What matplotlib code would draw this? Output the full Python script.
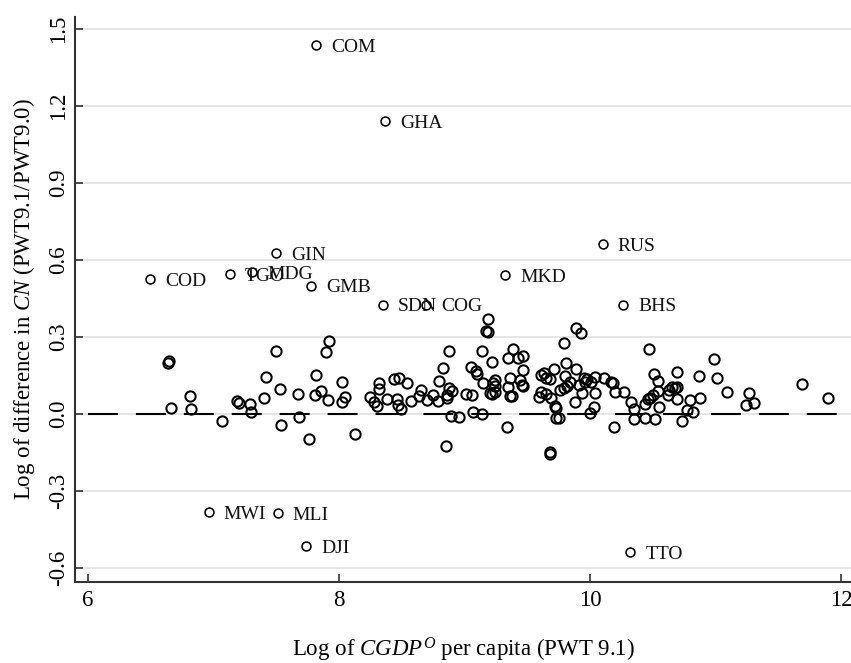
import matplotlib.pyplot as plt

plt.rcParams['font.family'] = ['Liberation Serif', 'DejaVu Serif']
plt.rcParams['mathtext.fontset'] = 'custom'
plt.rcParams['mathtext.rm'] = 'Liberation Serif'
plt.rcParams['mathtext.it'] = 'Liberation Serif:italic'
plt.rcParams['axes.unicode_minus'] = False

# labelled countries
label_codes = ['COM', 'GHA', 'GIN', 'COD', 'TGO', 'MDG', 'GMB', 'SDN', 'COG',
               'MKD', 'RUS', 'BHS', 'MWI', 'MLI', 'DJI', 'TTO']
label_x = [7.82, 8.37, 7.50, 6.49, 7.13, 7.31, 7.78, 8.35, 8.69,
           9.32, 10.10, 10.26, 6.96, 7.51, 7.74, 10.32]
label_y = [1.437, 1.140, 0.627, 0.526, 0.545, 0.553, 0.500, 0.425, 0.425,
           0.541, 0.662, 0.425, -0.382, -0.386, -0.514, -0.538]

# the rest of the countries
other_x = [6.64, 6.645, 6.66, 6.81, 6.82, 7.07, 7.19, 7.20, 7.29, 7.30,
           7.40, 7.42, 7.50, 7.53, 7.54, 7.67, 7.68, 7.76, 7.82, 7.81,
           7.86, 7.91, 7.92, 7.90, 8.02, 8.02, 8.05, 8.13, 8.25, 8.28,
           8.30, 8.32, 8.32, 8.38, 8.44, 8.48, 8.46, 8.47, 8.49, 8.54,
           8.57, 8.65, 8.64, 8.70, 8.75, 8.79, 8.80, 8.83, 8.88, 8.86,
           8.86, 8.88, 8.90, 8.89, 8.85, 8.96, 9.01, 9.06, 9.05, 9.09,
           9.10, 9.07, 9.14, 9.14, 9.15, 9.22, 9.24, 9.23, 9.20, 9.24,
           9.22, 9.17, 9.19, 9.19, 9.34, 9.35, 9.36, 9.36, 9.35, 9.39,
           9.43, 9.47, 9.47, 9.44, 9.47, 9.46, 9.38, 9.59, 9.61, 9.63,
           9.65, 9.61, 9.68, 9.65, 9.69, 9.71, 9.72, 9.73, 9.73, 9.75,
           9.68, 9.68, 9.79, 9.89, 9.93, 9.81, 9.80, 9.76, 9.79, 9.84,
           9.82, 9.89, 9.88, 9.91, 9.95, 9.96, 9.98, 10.01, 10.04, 10.04,
           9.94, 10.03, 10.00, 10.11, 10.17, 10.18, 10.20, 10.19, 10.27, 10.33,
           10.35, 10.35, 10.44, 10.52, 10.44, 10.46, 10.48, 10.50, 10.54, 10.47,
           10.51, 10.54, 10.55, 10.63, 10.65, 10.68, 10.62, 10.69, 10.69, 10.69,
           10.73, 10.77, 10.82, 10.80, 10.87, 10.88, 10.99, 11.01, 11.09, 11.27,
           11.24, 11.31, 11.69, 11.90, 9.24]
other_y = [0.200, 0.207, 0.022, 0.070, 0.020, -0.028, 0.050, 0.042, 0.040, 0.008,
           0.061, 0.144, 0.247, 0.097, -0.042, 0.077, -0.013, -0.096, 0.152, 0.074,
           0.091, 0.055, 0.284, 0.240, 0.126, 0.048, 0.065, -0.078, 0.068, 0.048,
           0.031, 0.122, 0.096, 0.058, 0.136, 0.141, 0.058, 0.036, 0.019, 0.122,
           0.052, 0.093, 0.072, 0.055, 0.074, 0.051, 0.128, 0.178, 0.245, 0.061,
           0.074, 0.100, 0.089, -0.006, -0.126, -0.013, 0.079, 0.074, 0.184, 0.169,
           0.155, 0.008, -0.001, 0.246, 0.120, 0.202, 0.134, 0.120, 0.081, 0.087,
           0.078, 0.325, 0.318, 0.370, -0.052, 0.104, 0.071, 0.139, 0.217, 0.252,
           0.217, 0.226, 0.171, 0.132, 0.109, 0.113, 0.070, 0.065, 0.087, 0.158,
           0.139, 0.152, 0.136, 0.077, 0.061, 0.174, 0.031, 0.022, -0.017, -0.014,
           -0.149, -0.156, 0.276, 0.334, 0.314, 0.197, 0.148, 0.093, 0.100, 0.126,
           0.108, 0.174, 0.048, 0.113, 0.139, 0.126, 0.135, 0.126, 0.143, 0.083,
           0.083, 0.026, 0.003, 0.139, 0.126, 0.120, 0.087, -0.050, 0.087, 0.048,
           0.018, -0.020, -0.016, -0.019, 0.039, 0.058, 0.061, 0.075, 0.088, 0.252,
           0.157, 0.130, 0.026, 0.094, 0.104, 0.100, 0.074, 0.106, 0.162, 0.057,
           -0.026, 0.016, 0.009, 0.055, 0.149, 0.061, 0.214, 0.141, 0.085, 0.081,
           0.034, 0.042, 0.117, 0.064, 0.109]

yticks = [-0.6, -0.3, 0.0, 0.3, 0.6, 0.9, 1.2, 1.5]
xticks = [6, 8, 10, 12]

fig = plt.figure(figsize=(8.51, 6.63), dpi=100)
ax = fig.add_axes([75 / 851, 81 / 663, 776 / 851, 565 / 663])
ax.set_xlim(5.896, 12.08)
ax.set_ylim(-0.6545, 1.5466)

ax.set_yticks(yticks)
ax.set_yticklabels(['%.1f' % v for v in yticks])
ax.set_xticks(xticks)
ax.yaxis.grid(True, color='#dedede', lw=1.1)
ax.set_axisbelow(True)

# zero line
ax.plot([6, 12], [0, 0], color='black', lw=1.5, linestyle=(0, (14.4, 8.6)),
        dash_capstyle='butt', zorder=2)

ax.plot(other_x, other_y, 'o', mfc='none', mec='black', ms=7.4, mew=1.45, zorder=3)
ax.plot(label_x, label_y, 'o', mfc='none', mec='black', ms=6.4, mew=1.15, zorder=3)
for c, x, y in zip(label_codes, label_x, label_y):
    ax.annotate(c, (x, y), xytext=(11, -1.5), textcoords='offset points',
                va='center', ha='left', fontsize=14, color='#111111')

for s in ['top', 'right']:
    ax.spines[s].set_visible(False)
for s in ['left', 'bottom']:
    ax.spines[s].set_color('#333333')
    ax.spines[s].set_linewidth(1.5)

ax.tick_params(axis='both', direction='in', length=6, width=1.2, color='#333333',
               labelsize=16.5)
ax.tick_params(axis='y', pad=4)
ax.tick_params(axis='x', pad=6)
for lab in ax.get_yticklabels():
    lab.set_rotation(90)
    lab.set_va('center')

ax.set_ylabel(r'Log of difference in $\mathit{CN}$ (PWT9.1/PWT9.0)', fontsize=16.5,
              labelpad=8)
ax.set_xlabel(r'Log of $\mathit{CGDP}^{O}$ per capita (PWT 9.1)', fontsize=16.5,
              labelpad=17.5)

fig.savefig('out.png', dpi=100)
